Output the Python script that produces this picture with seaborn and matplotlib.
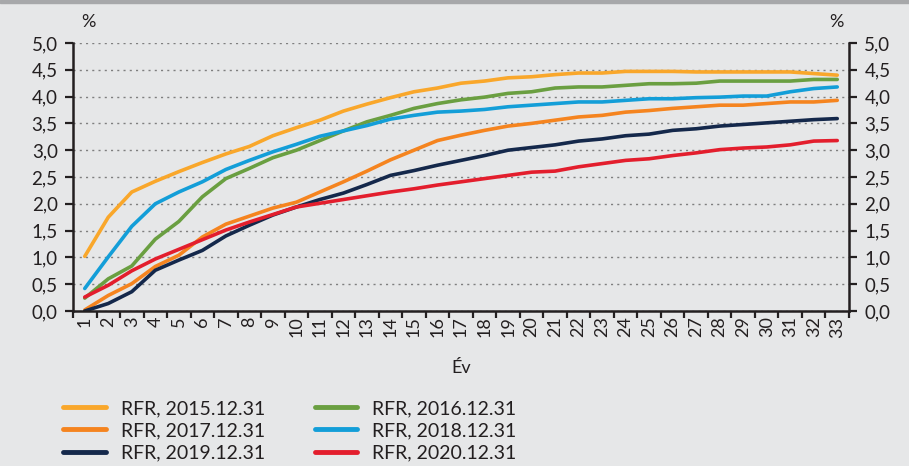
import pandas as pd
import matplotlib
matplotlib.use("Agg")
import matplotlib.pyplot as plt
from matplotlib.patches import Rectangle
from matplotlib.ticker import FuncFormatter, MultipleLocator
import seaborn as sns

# Data
years = list(range(1, 34))

rfr_2015 = [1.02, 1.75, 2.22, 2.42, 2.60, 2.77, 2.93, 3.07, 3.27, 3.42, 3.56, 3.73, 3.86,
            3.98, 4.09, 4.16, 4.25, 4.29, 4.35, 4.37, 4.41, 4.44, 4.44, 4.47, 4.47, 4.47,
            4.46, 4.46, 4.46, 4.46, 4.46, 4.43, 4.40]
rfr_2016 = [0.24, 0.60, 0.84, 1.34, 1.67, 2.13, 2.47, 2.66, 2.86, 3.00, 3.18, 3.36, 3.53,
            3.65, 3.78, 3.87, 3.94, 3.99, 4.06, 4.09, 4.16, 4.18, 4.18, 4.21, 4.24, 4.24,
            4.25, 4.29, 4.29, 4.29, 4.29, 4.32, 4.32]
rfr_2017 = [0.02, 0.29, 0.51, 0.83, 1.04, 1.38, 1.62, 1.77, 1.92, 2.03, 2.22, 2.41, 2.61,
            2.82, 3.00, 3.18, 3.28, 3.37, 3.45, 3.50, 3.56, 3.62, 3.65, 3.71, 3.74, 3.78,
            3.81, 3.84, 3.84, 3.87, 3.90, 3.90, 3.93]
rfr_2018 = [0.42, 1.01, 1.58, 2.00, 2.22, 2.41, 2.64, 2.81, 2.97, 3.11, 3.26, 3.36, 3.46,
            3.58, 3.65, 3.71, 3.73, 3.76, 3.81, 3.84, 3.87, 3.90, 3.90, 3.93, 3.96, 3.96,
            3.98, 3.99, 4.01, 4.01, 4.09, 4.15, 4.18]
rfr_2019 = [0.00, 0.14, 0.36, 0.76, 0.95, 1.13, 1.40, 1.60, 1.79, 1.94, 2.08, 2.20, 2.36,
            2.53, 2.62, 2.72, 2.81, 2.90, 3.00, 3.05, 3.10, 3.17, 3.21, 3.27, 3.30, 3.37,
            3.40, 3.45, 3.48, 3.51, 3.54, 3.57, 3.59]
rfr_2020 = [0.26, 0.48, 0.75, 0.97, 1.15, 1.33, 1.51, 1.66, 1.80, 1.94, 2.01, 2.08, 2.15,
            2.22, 2.28, 2.35, 2.41, 2.47, 2.53, 2.59, 2.61, 2.69, 2.75, 2.81, 2.84, 2.90,
            2.95, 3.01, 3.04, 3.06, 3.10, 3.17, 3.18]

series_names = ["RFR, 2015.12.31", "RFR, 2016.12.31", "RFR, 2017.12.31",
                "RFR, 2018.12.31", "RFR, 2019.12.31", "RFR, 2020.12.31"]
series_values = [rfr_2015, rfr_2016, rfr_2017, rfr_2018, rfr_2019, rfr_2020]
colors = ["#f9a72b", "#6a9f41", "#f5841f", "#139ed8", "#14284b", "#e31e2d"]

rows = []
for name, vals in zip(series_names, series_values):
    for yr, v in zip(years, vals):
        rows.append({"Év": yr, "value": v, "series": name})
df = pd.DataFrame(rows)

sns.set_style("white")
plt.rcParams["font.family"] = ["Lato", "DejaVu Sans"]

bg = "#e6e7e8"
dark = "#231f20"

fig = plt.figure(figsize=(9.09, 4.66), dpi=100, facecolor=bg)
fig.add_artist(Rectangle((0, 1 - 3 / 466), 1, 3 / 466, transform=fig.transFigure,
                         color="#a7a8aa", zorder=10))
ax = fig.add_axes([73 / 909, 1 - 311 / 466, 776 / 909, 268 / 466])
ax.set_facecolor(bg)

sns.lineplot(data=df, x="Év", y="value", hue="series", hue_order=series_names,
             palette=colors, linewidth=2.6, ax=ax, legend=True)

ax.set_xlim(0.5, 33.5)
ax.set_ylim(0, 5)

# y axis on both sides with decimal comma
ax.yaxis.set_major_locator(MultipleLocator(0.5))
ax.yaxis.set_major_formatter(FuncFormatter(lambda v, p: f"{v:.1f}".replace(".", ",")))
ax.tick_params(axis="y", which="major", left=True, right=True, labelleft=True,
               labelright=True, direction="out", length=6, width=1.6, color=dark,
               labelsize=13.5, labelcolor=dark, pad=5)

# x: labels at centres, tick marks at category borders
ax.set_xticks(years)
ax.set_xticklabels([str(y) for y in years], rotation=90)
ax.set_xticks([y + 0.5 for y in range(0, 34)], minor=True)
ax.tick_params(axis="x", which="major", length=0, labelsize=13, labelcolor=dark, pad=4)
ax.tick_params(axis="x", which="minor", bottom=True, length=5, width=1.6, color=dark,
               direction="out")

ax.grid(axis="y", color="#7f7f7f", linestyle=(0, (1.5, 3)), linewidth=1)
ax.grid(axis="x", visible=False)
for s in ["left", "right", "bottom"]:
    ax.spines[s].set_visible(True)
    ax.spines[s].set_color(dark)
    ax.spines[s].set_linewidth(1.8)
ax.spines["top"].set_visible(False)

ax.set_xlabel("")
ax.set_ylabel("")
fig.text(461 / 909, 1 - 368 / 466, "Év", ha="center", va="center", fontsize=13, color=dark)
fig.text(88 / 909, 1 - 22 / 466, "%", ha="center", va="center", fontsize=13, color=dark)
fig.text(836 / 909, 1 - 22 / 466, "%", ha="center", va="center", fontsize=13, color=dark)

# legend: two columns, order 2015/2017/2019 then 2016/2018/2020
handles, labels = ax.get_legend_handles_labels()
ax.get_legend().remove()
order = [0, 2, 4, 1, 3, 5]
leg = fig.legend([handles[i] for i in order], [labels[i] for i in order],
                 ncol=2, loc="upper left", bbox_to_anchor=(63 / 909, 1 - 400 / 466),
                 frameon=False, fontsize=14, handlelength=2.2, handletextpad=0.77,
                 columnspacing=2.55, labelspacing=0.27, borderpad=0, borderaxespad=0)
for t in leg.get_texts():
    t.set_color(dark)
for l in leg.get_lines():
    l.set_linewidth(3.5)

fig.savefig("out.png", dpi=100, facecolor=bg)
